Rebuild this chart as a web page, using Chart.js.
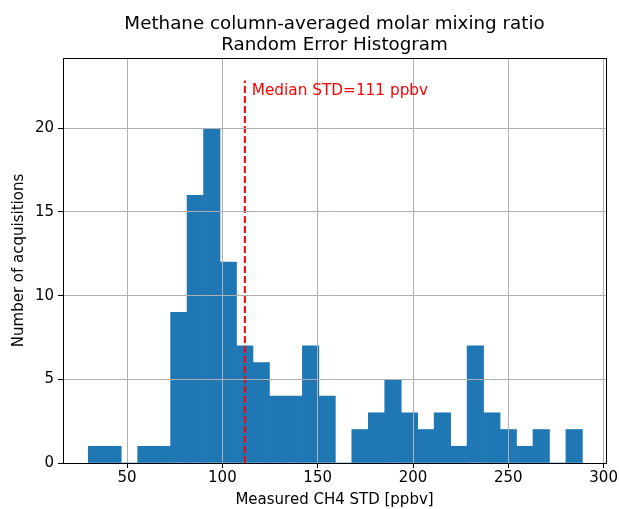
<!DOCTYPE html>
<html>
<head>
<meta charset="utf-8">
<script src="https://cdn.jsdelivr.net/npm/chart.js@4"></script>
<style>
  html, body { margin: 0; padding: 0; background: #fff; }
  #wrap { width: 619px; height: 509px; }
</style>
</head>
<body>
<div id="wrap"><canvas id="grafica" width="619" height="509"></canvas></div>
<script>
// histogram: 30 bins from 29.66 to 288.9 ppbv
const binStart = 29.66;
const binWidth = 8.64;
const counts = [1, 1, 0, 1, 1, 9, 16, 20, 12, 7, 6, 4, 4, 7, 4, 0, 2, 3, 5, 3, 2, 3, 1, 7, 3, 2, 1, 2, 0, 2];
const xTicks = [50, 100, 150, 200, 250, 300];
const yTicks = [0, 5, 10, 15, 20];
const medianValue = 111.8;
const medianTop = 22.85;
const medianLabel = 'Median STD=111 ppbv';

const centers = counts.map((c, i) => binStart + binWidth * (i + 0.5));
const barData = counts.map((c, i) => ({ x: centers[i], y: c }));

const FONT = 'DejaVu Sans';

// titulo y marco
const extras = {
  id: 'extras',
  afterDraw(chart) {
    const ctx = chart.ctx;
    const a = chart.chartArea;
    const xs = chart.scales.x;
    const ys = chart.scales.y;
    ctx.save();
    ctx.strokeStyle = '#000';
    ctx.lineWidth = 1;
    ctx.strokeRect(Math.round(a.left) + 0.5, Math.round(a.top) + 0.5,
      Math.round(a.right - a.left), Math.round(a.bottom - a.top));

    ctx.fillStyle = '#000';
    ctx.font = '18.3px "' + FONT + '"';
    ctx.textAlign = 'center';
    ctx.textBaseline = 'alphabetic';
    const cx = (a.left + a.right) / 2;
    ctx.fillText('Methane column-averaged molar mixing ratio', cx, 29);
    ctx.fillText('Random Error Histogram', cx, 50);

    // etiqueta de la mediana
    ctx.fillStyle = '#ff0000';
    ctx.font = '15.3px "' + FONT + '"';
    ctx.textAlign = 'left';
    ctx.fillText(medianLabel, xs.getPixelForValue(medianValue + 3.6), ys.getPixelForValue(22.0));
    ctx.restore();
  }
};

new Chart(document.getElementById('grafica'), {
  data: {
    datasets: [
      {
        type: 'bar',
        data: barData,
        backgroundColor: '#1f77b4',
        borderWidth: 0,
        barPercentage: 1,
        categoryPercentage: 1,
        order: 2
      },
      {
        type: 'line',
        data: [{ x: medianValue, y: 0 }, { x: medianValue, y: medianTop }],
        borderColor: '#ff0000',
        borderWidth: 2,
        borderDash: [7, 3],
        pointRadius: 0,
        fill: false,
        order: 1
      }
    ]
  },
  options: {
    responsive: false,
    animation: false,
    layout: { padding: { top: 58, right: 11, left: 0, bottom: 0 } },
    plugins: {
      legend: { display: false },
      tooltip: { enabled: false },
      title: { display: false }
    },
    scales: {
      x: {
        type: 'linear',
        offset: false,
        min: 16.4,
        max: 301.25,
        afterBuildTicks(scale) { scale.ticks = xTicks.map(v => ({ value: v })); },
        afterFit(scale) { scale.height = 46; },
        grid: { offset: false, color: '#b0b0b0', lineWidth: 1, tickLength: 5, tickColor: '#000', z: 1 },
        border: { display: false },
        ticks: { color: '#000', font: { family: FONT, size: 15 }, padding: 1, maxRotation: 0 },
        title: { display: true, text: 'Measured CH4 STD [ppbv]', color: '#000', font: { family: FONT, size: 15 }, padding: { top: 2, bottom: 0 } }
      },
      y: {
        min: 0,
        max: 24.2,
        afterBuildTicks(scale) { scale.ticks = yTicks.map(v => ({ value: v })); },
        afterFit(scale) { scale.width = 63; },
        grid: { color: '#b0b0b0', lineWidth: 1, tickLength: 5, tickColor: '#000', z: 1 },
        border: { display: false },
        ticks: { color: '#000', font: { family: FONT, size: 15 }, padding: 4 },
        title: { display: true, text: 'Number of acquisitions', color: '#000', font: { family: FONT, size: 15 }, padding: { top: 10, bottom: 4 } }
      }
    }
  },
  plugins: [extras]
});
</script>
</body>
</html>
